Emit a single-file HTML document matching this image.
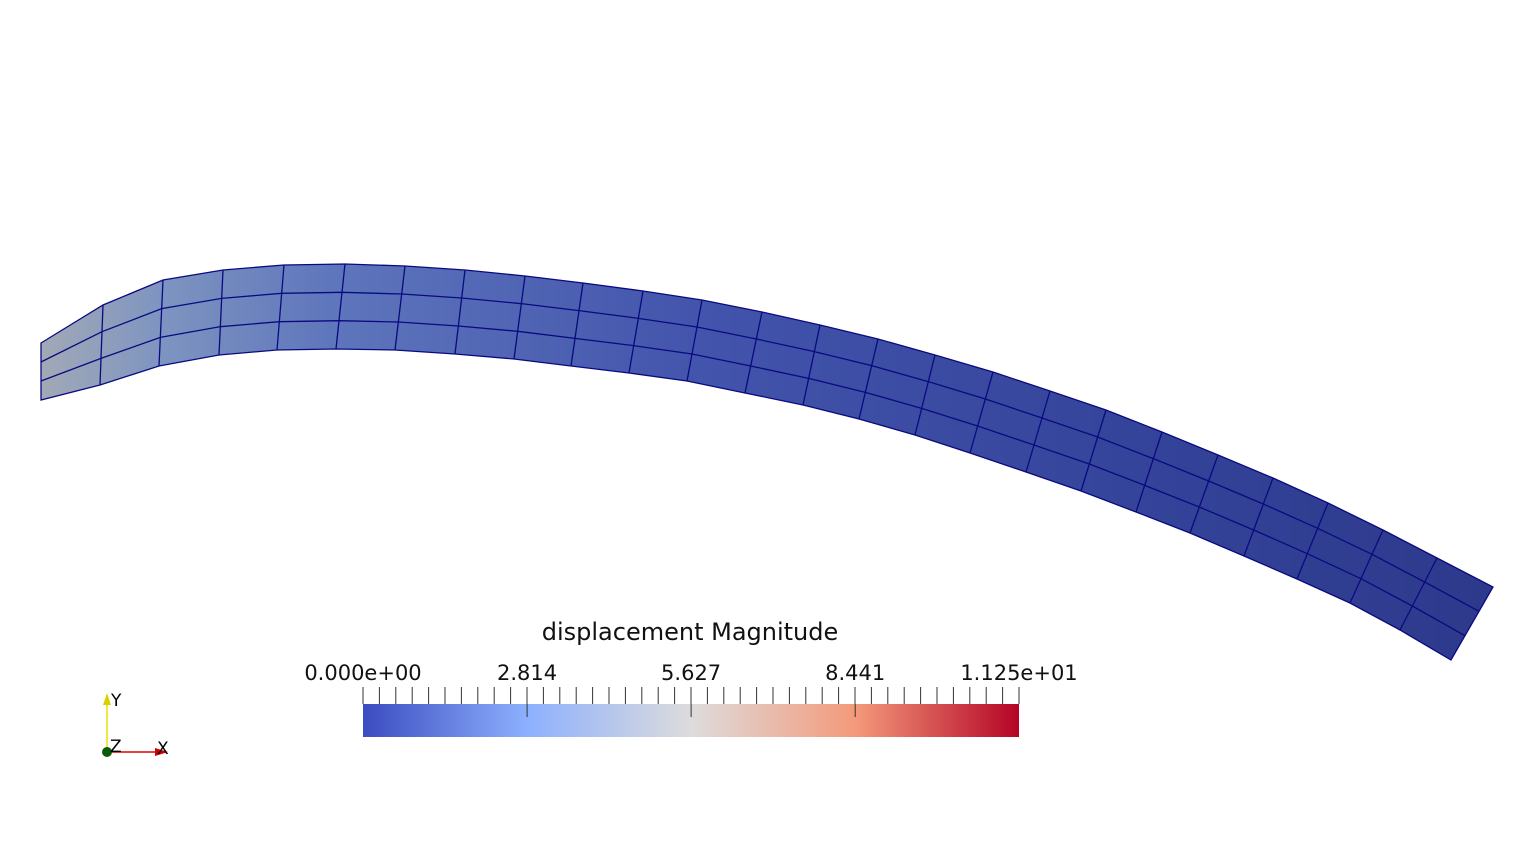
<!DOCTYPE html>
<html><head><meta charset="utf-8"><style>
html,body{margin:0;padding:0;background:#fff;}
svg{display:block;font-family:"DejaVu Sans","Liberation Sans",sans-serif;}
</style></head><body>
<svg id="s" width="1535" height="860" viewBox="0 0 1535 860">
<defs>
<linearGradient id="beamGrad" x1="41" y1="0" x2="1493" y2="0" gradientUnits="userSpaceOnUse">
<stop offset="0" stop-color="#a2a9b6"/>
<stop offset="0.08" stop-color="#7f95c0"/>
<stop offset="0.2" stop-color="#5e76bc"/>
<stop offset="0.45" stop-color="#4354ac"/>
<stop offset="0.75" stop-color="#34449a"/>
<stop offset="1" stop-color="#2d398b"/>
</linearGradient>
<linearGradient id="cbGrad" x1="0" y1="0" x2="1" y2="0">
<stop offset="0" stop-color="#3b4cc0"/>
<stop offset="0.25" stop-color="#8db0fe"/>
<stop offset="0.5" stop-color="#dddcdc"/>
<stop offset="0.75" stop-color="#f49a7b"/>
<stop offset="1" stop-color="#b40426"/>
</linearGradient>
</defs>
<g id="beam"></g>
<g id="cb">
<text x="690" y="640" text-anchor="middle" font-size="24" fill="#111">displacement Magnitude</text>
<rect x="363" y="704" width="656" height="33" fill="url(#cbGrad)"/>
</g>
<g>
<line x1="107" y1="752" x2="107" y2="700" stroke="#e8e000" stroke-width="1.5"/>
<polygon points="103,705 111,705 107,693" fill="#d8d000"/>
<line x1="107" y1="752" x2="160" y2="752" stroke="#e00000" stroke-width="1.5"/>
<polygon points="155,748 155,756 168,752" fill="#d00000"/>
<circle cx="107" cy="752" r="5" fill="#0a5a0a"/>
<text x="111" y="706" font-size="17" fill="#000">Y</text>
<text x="110" y="752" font-size="17" fill="#000">Z</text>
<text x="157" y="754" font-size="17" fill="#000">X</text>
</g>
</svg>
<script>
const topX=[41,103,163,223,284,345,405,465,525,583,643,702,762,820,878,935,993,1050,1106,1162,1218,1273,1328,1383,1437,1493];
const topY=[343,305,280,270,265,264,266,270,276,283,291,300,312,325,339,355,372,391,410,432,455,478,503,530,558,587];
const botX=[41,100,159,219,277,336,395,455,514,571,629,687,745,803,859,915,970,1026,1081,1136,1190,1244,1297,1350,1400,1451];
const botY=[400,385,366,355,350,349,350,354,359,366,373,381,393,405,419,435,453,472,491,512,533,556,579,603,630,660];
const tickValues=[0,2.814,5.627,8.441,11.25];
const tickLabels=["0.000e+00","2.814","5.627","8.441","1.125e+01"];
const cbMin=0, cbMax=11.25, minorCount=40;

const NS="http://www.w3.org/2000/svg";
const beam=document.getElementById('beam');
const n=topX.length;
let outline=[];
for(let i=0;i<n;i++)outline.push(topX[i]+','+topY[i]);
for(let i=n-1;i>=0;i--)outline.push(botX[i]+','+botY[i]);
const poly=document.createElementNS(NS,'polygon');
poly.setAttribute('points',outline.join(' '));
poly.setAttribute('fill','url(#beamGrad)');
poly.setAttribute('stroke','#0a0a80');
poly.setAttribute('stroke-width','1.3');


beam.appendChild(poly);
for(const f of [1/3,2/3]){
  let pts=[];
  for(let i=0;i<n;i++)pts.push((topX[i]+(botX[i]-topX[i])*f)+','+(topY[i]+(botY[i]-topY[i])*f));
  const pl=document.createElementNS(NS,'polyline');
  pl.setAttribute('points',pts.join(' '));
  pl.setAttribute('fill','none');pl.setAttribute('stroke','#0a0a80');pl.setAttribute('stroke-width','1.3');
  
  
  beam.appendChild(pl);
}
for(let i=1;i<n-1;i++){
  const l=document.createElementNS(NS,'line');
  l.setAttribute('x1',topX[i]);l.setAttribute('y1',topY[i]);l.setAttribute('x2',botX[i]);l.setAttribute('y2',botY[i]);
  l.setAttribute('stroke','#0a0a80');l.setAttribute('stroke-width','1.3');
  
  
  beam.appendChild(l);
}
const cb=document.getElementById('cb');
const x0=363,x1=1019;
const sx=v=>x0+(v-cbMin)/(cbMax-cbMin)*(x1-x0);
for(let k=0;k<=minorCount;k++){
  const x=x0+(x1-x0)*k/minorCount;
  const l=document.createElementNS(NS,'line');
  l.setAttribute('x1',x);l.setAttribute('x2',x);l.setAttribute('y1',687);l.setAttribute('y2',704);
  l.setAttribute('stroke','#333');l.setAttribute('stroke-width','1');
  
  
  cb.appendChild(l);
}
tickValues.forEach((v,i)=>{
  const x=sx(v);
  if(i>0&&i<tickValues.length-1){
    const l=document.createElementNS(NS,'line');
    l.setAttribute('x1',x);l.setAttribute('x2',x);l.setAttribute('y1',704);l.setAttribute('y2',717);
    l.setAttribute('stroke','#333');l.setAttribute('stroke-width','1');
    
    
    cb.appendChild(l);
  }
  const t=document.createElementNS(NS,'text');
  t.setAttribute('x',x);t.setAttribute('y',680);t.setAttribute('text-anchor','middle');
  t.setAttribute('font-size','21');t.setAttribute('fill','#111');
  t.textContent=tickLabels[i];
  
  
  cb.appendChild(t);
});
</script>
</body></html>
